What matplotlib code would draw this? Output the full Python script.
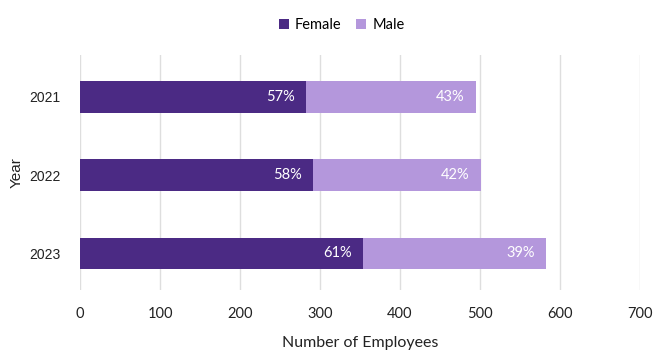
import numpy as np
import matplotlib.pyplot as plt

years = ["2021", "2022", "2023"]
female = [283, 291, 354]
male = [212, 210, 228]
female_pct = ["57%", "58%", "61%"]
male_pct = ["43%", "42%", "39%"]

c_female = "#4b2a84"
c_male = "#b497dc"

plt.rcParams['font.family'] = ['Lato', 'DejaVu Sans']

fig = plt.figure(figsize=(6.57, 3.51), dpi=100)
ax = fig.add_axes([0.122, 0.174, 0.852, 0.67])

y = np.arange(len(years))
b1 = ax.barh(y, female, height=0.4, color=c_female, label="Female", zorder=3)
b2 = ax.barh(y, male, left=female, height=0.4, color=c_male, label="Male", zorder=3)

for i in range(len(years)):
    ax.annotate(female_pct[i], (female[i], y[i]), xytext=(-8, 0), textcoords="offset points",
                ha="right", va="center", color="white", fontsize=10.5, zorder=4)
    ax.annotate(male_pct[i], (female[i] + male[i], y[i]), xytext=(-8, 0), textcoords="offset points",
                ha="right", va="center", color="white", fontsize=10.5, zorder=4)

ax.set_xlim(0, 700)
ax.set_ylim(2.47, -0.54)
ax.set_xticks(range(0, 701, 100))
ax.set_yticks(y)
ax.set_yticklabels(years)
ax.tick_params(axis='both', length=0, labelsize=10.5, colors="#222222")
ax.tick_params(axis='x', pad=12)
ax.tick_params(axis='y', pad=14)
for lab in ax.get_yticklabels():
    lab.set_fontfamily('Liberation Sans')
    lab.set_fontsize(10)
ax.grid(axis='x', color="#dedede", linewidth=1, zorder=0)
for s in ax.spines.values():
    s.set_visible(False)

ax.set_xlabel("Number of Employees", fontsize=11.5, color="#222222", labelpad=11)
ax.set_ylabel("Year", fontsize=11, color="#222222", family='Liberation Sans', labelpad=4)

fig.legend(handles=[b1, b2], loc="upper center", bbox_to_anchor=(0.52, 0.985), ncol=2,
           frameon=False, fontsize=10.5, handlelength=0.7, handleheight=0.7,
           handletextpad=0.4, columnspacing=1.0)

fig.savefig("out.png", dpi=100)
